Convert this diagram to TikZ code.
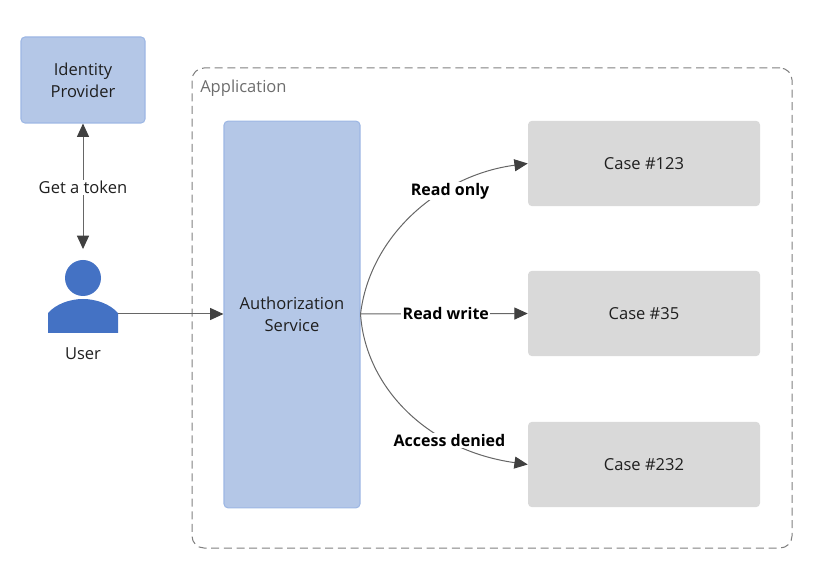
\documentclass[tikz,border=0pt]{standalone}
\usepackage{fontspec}
\setmainfont{Open Sans}
\usepackage{xcolor}
\usetikzlibrary{positioning,calc,arrows.meta}
\definecolor{bluebox}{HTML}{B4C7E7}
\definecolor{blueline}{HTML}{9DB7E4}
\definecolor{usercol}{HTML}{4472C4}
\definecolor{casecol}{HTML}{D9D9D9}
\definecolor{textcol}{HTML}{1F1F1F}
\definecolor{linkcol}{HTML}{666666}
\definecolor{tipcol}{HTML}{404040}
\definecolor{appcol}{HTML}{808080}
\begin{document}
\begin{tikzpicture}[x=0.75pt,y=-0.75pt,font=\fontsize{12.4}{16.5}\selectfont,text=textcol,
    bluebox/.style={rectangle, draw=blueline, fill=bluebox, rounded corners=3pt, line width=0.8pt, align=center},
    casebox/.style={rectangle, fill=casecol, rounded corners=3pt, minimum width=174pt, minimum height=64pt},
    link/.style={draw=linkcol, line width=0.75pt, -{Triangle[length=10pt,width=9pt,color=tipcol,fill=tipcol]}},
    linklabel/.style={fill=white, inner sep=1pt, font=\fontsize{12}{14}\selectfont\bfseries, text=black}]
    \useasboundingbox (0,0) rectangle (813,580);
    \node[draw=appcol, dash pattern=on 6pt off 3.5pt, line width=0.75pt, rounded corners=9pt, minimum width=450pt, minimum height=360pt] (app) at (492,308) {};
    \node[anchor=west, text=appcol!85!black, inner sep=0pt] (apptitle) at (200,88) {Application};
    \node[bluebox, minimum width=93pt, minimum height=64.5pt] (idp) at (83,80) {Identity\\Provider};
    \node[bluebox, minimum width=102pt, minimum height=290pt] (auth) at (292,314.5) {Authorization\\Service};
    \node[casebox] (case123) at (644,163.5) {Case \#123};
    \node[casebox] (case35) at (644,313.5) {Case \#35};
    \node[casebox] (case232) at (644,464.5) {Case \#232};
    % user icon
    \node[circle, fill=usercol, minimum size=27pt, inner sep=0pt] (head) at (83,278) {};
    \fill[usercol] (48,333) -- (48,313) .. controls (56,304) and (70,299) .. (83,299) .. controls (96,299) and (110,304) .. (118,313) -- (118,333) -- cycle;
    \coordinate (body) at (118,314);
    \node (user) at (83,354) {User};
    \draw[link, {Triangle[length=10pt,width=9pt,color=tipcol,fill=tipcol]}-{Triangle[length=10pt,width=9pt,color=tipcol,fill=tipcol]}, shorten >=8pt] (idp.south) -- node[fill=white, inner sep=1pt, pos=0.47] (token) {Get a token} (head.north);
    \draw[link] (body) -- (auth.west |- body);
    \draw[link] (auth.east |- body) .. controls (370,235) and (440,175) .. (case123.west) node[linklabel, pos=0.66, xshift=3pt] (readonly) {Read only};
    \draw[link] (auth.east |- body) -- node[linklabel, pos=0.51] (readwrite) {Read write} (case35.west);
    \draw[link] (auth.east |- body) .. controls (365,385) and (425,450) .. (case232.west) node[linklabel, pos=0.71] (denied) {Access denied};
\end{tikzpicture}
\end{document}
